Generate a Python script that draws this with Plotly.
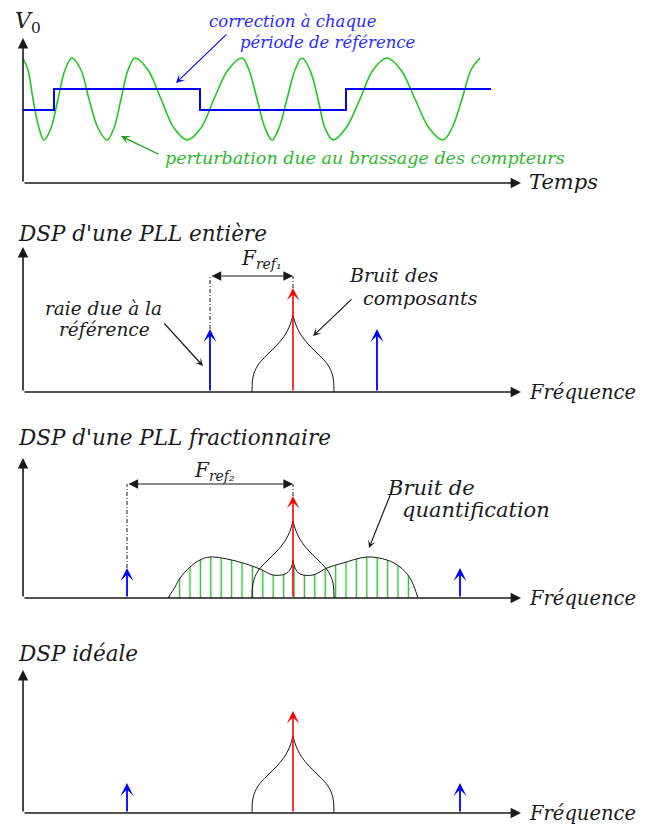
import plotly.graph_objects as go

W, H = 648, 828
OFF = 8                     # page body margin of the browser
FW, FH = W - OFF, H - OFF   # figure size
FONT = "DejaVu Serif, Liberation Serif, serif"

# ---------------- Panel 1 : time domain ----------------
wave_t = [0, 5, 10, 16, 21, 28, 35, 42, 49, 58, 66, 75, 84, 91, 98, 105, 112,
          125, 138, 151, 164, 178, 191, 205, 219, 226, 234, 242, 249, 256, 264, 272, 279,
          287, 295, 302, 310, 323, 337, 350, 364, 378, 392, 406, 420, 429, 439, 448, 457]
wave_v = [125, 113, 84, 55, 43, 55, 84, 113, 125, 113, 84, 55, 43, 55, 84, 113, 125,
          113, 84, 55, 43, 55, 84, 113, 125, 113, 84, 55, 43, 55, 84, 113, 125,
          113, 84, 55, 43, 55, 84, 113, 125, 113, 84, 55, 43, 55, 84, 113, 125]
corr_t = [0, 31, 177, 323, 468]
corr_v = [73, 94, 73, 94, 94]

# ---------------- Spectra (panels 2-4) ----------------
carrier_f = 270
carrier_amp = [104, 102, 102]
ref_f = [[187, 354], [104, 437], [104, 437]]
ref_amp = [63, 30, 30]
bump_df = [-41, -40, -35, -26, -16, -8, -3, 0]
bump_h = [0, 15, 27, 37, 47, 57, 67, 77]
quant_df_left = [-125, -118, -113, -103, -93, -83, -66, -50, -33, -20, -8, -2, 0]
quant_h_left = [0, 11, 20, 31, 38, 41, 39, 35, 29, 23, 24, 30, 38]
quant_df_right = [0, 2, 7, 20, 34, 50, 74, 94, 107, 117, 125]
quant_h_right = [38, 30, 24, 23, 30, 35, 41, 38, 31, 20, 0]
fref_level = [116, 114]
fref_labels = ["<i>F<sub>ref₁</sub></i>", "<i>F<sub>ref₂</sub></i>"]

titles = ["", "<i>DSP d'une PLL entière</i>", "<i>DSP d'une PLL fractionnaire</i>", "<i>DSP idéale</i>"]
title_y = [0, 159, 161, 160]
x_tip = 498
y_tip = [145, 145, 140, 143]

# panel layout in page pixels (top, bottom, baseline)
panels = [(8, 200, 183), (205, 410, 392), (415, 615, 598), (625, 828, 813)]

BLACK = "#1a1a1a"
BLUE = "#0000ff"
RED = "#ff0000"
GREEN = "#1ec81e"
GREEN_TXT = "#2eb82e"
BLUE_TXT = "#2a2aff"

fig = go.Figure()
ann = []
layout_axes = {}
for i, (top, bot, base) in enumerate(panels):
    name = "yaxis" if i == 0 else f"yaxis{i+1}"
    layout_axes[name] = dict(domain=[1 - (bot - OFF) / FH, 1 - (top - OFF) / FH],
                             range=[base - bot, base - top], visible=False, fixedrange=True)

def yref(i):
    return "y" if i == 0 else f"y{i+1}"

def arrow(i, x0, y0, x1, y1, color, width, head, size, **kw):
    ann.append(dict(x=x1, y=y1, ax=x0, ay=y0, xref="x", yref=yref(i), axref="x", ayref=yref(i),
                    text="", showarrow=True, arrowhead=head, arrowsize=size, arrowwidth=width,
                    arrowcolor=color, standoff=0, startstandoff=0, **kw))

def label(i, x, y, text, size, color=BLACK, xanchor="center"):
    ann.append(dict(x=x, y=y, xref="x", yref=yref(i), text=text, showarrow=False,
                    xanchor=xanchor, yanchor="middle",
                    font=dict(family=FONT, size=size, color=color)))

# axes for each panel
for i in range(4):
    arrow(i, 0, 0, x_tip, 0, BLACK, 1.6, 2, 1.3)
    arrow(i, 0, 0, 0, y_tip[i], BLACK, 1.6, 2, 1.3)
    if i > 0:
        label(i, -7, title_y[i], titles[i], 21.5, xanchor="left")
        label(i, 504, 0, "<i>Fréquence</i>", 19.5, xanchor="left")

# ---- panel 1 traces ----
fig.add_trace(go.Scatter(x=wave_t, y=wave_v, mode="lines",
                         line=dict(color=GREEN, width=1.6, shape="spline", smoothing=1.0),
                         xaxis="x", yaxis="y", hoverinfo="skip"))
fig.add_trace(go.Scatter(x=corr_t, y=corr_v, mode="lines", line=dict(color=BLUE, width=2, shape="hv"),
                         xaxis="x", yaxis="y", hoverinfo="skip"))
ann.append(dict(x=5, y=161, xref="x", yref="y", text="<i>V</i><sub>0</sub>", showarrow=False,
                font=dict(family=FONT, size=22, color=BLACK)))
label(0, 504, 1, "<i>Temps</i>", 21, xanchor="left")
label(0, 270, 162, "<i>correction à chaque</i>", 16.5, BLUE_TXT)
label(0, 305, 141, "<i>période de référence</i>", 16.5, BLUE_TXT)
arrow(0, 205, 150, 153, 100, BLUE, 1.1, 3, 1.3)
label(0, 342, 25, "<i>perturbation due au brassage des compteurs</i>", 17.5, GREEN_TXT)
arrow(0, 137, 28, 98, 47, "#14a014", 1.3, 3, 1.2)

# ---- spectra ----
pattern = dict(shape="|", size=10.4, solidity=0.14, fgcolor="#33bb33",
               bgcolor="rgba(0,0,0,0)", fillmode="replace")
for k in range(3):
    i = k + 1
    ya = yref(i)
    if k == 1:
        for dfs, hs in ((quant_df_left, quant_h_left), (quant_df_right, quant_h_right)):
            fig.add_trace(go.Scatter(x=[carrier_f + d for d in dfs], y=hs, mode="lines",
                                     line=dict(color=BLACK, width=1, shape="spline"), fill="tozeroy",
                                     fillcolor="rgba(0,0,0,0)", fillpattern=pattern,
                                     xaxis="x", yaxis=ya, hoverinfo="skip"))
    # component noise bump (two halves to keep the cusp)
    fig.add_trace(go.Scatter(x=[carrier_f + d for d in bump_df], y=bump_h, mode="lines",
                             line=dict(color=BLACK, width=1, shape="spline"), xaxis="x", yaxis=ya, hoverinfo="skip"))
    fig.add_trace(go.Scatter(x=[carrier_f - d for d in bump_df], y=bump_h, mode="lines",
                             line=dict(color=BLACK, width=1, shape="spline"), xaxis="x", yaxis=ya, hoverinfo="skip"))
    # spikes
    arrow(i, carrier_f, 0, carrier_f, carrier_amp[k], RED, 1.6, 3, 1.3)
    for f in ref_f[k]:
        arrow(i, f, 0, f, ref_amp[k], BLUE, 1.8, 3, 1.2)
    # Fref dimension
    if k < 2:
        lv = fref_level[k]
        fl = ref_f[k][0]
        for xx, y0 in ((fl, ref_amp[k]), (carrier_f, carrier_amp[k])):
            fig.add_trace(go.Scatter(x=[xx, xx], y=[y0, lv], mode="lines",
                                     line=dict(color=BLACK, width=1, dash="4px,2px,1px,2px"),
                                     xaxis="x", yaxis=ya, hoverinfo="skip"))
        arrow(i, fl, lv, carrier_f, lv, BLACK, 1.2, 2, 1.6, arrowside="end+start",
              startarrowhead=2, startarrowsize=1.6)
        label(i, [238, 191][k], [133, 127][k], fref_labels[k], 20)

# panel 2 annotations
label(1, 80, 84, "<i>raie due à la</i>", 18.5)
label(1, 81, 63, "<i>référence</i>", 18.5)
arrow(1, 140, 70, 180, 26, BLACK, 1.2, 3, 1.1)
label(1, 324, 117, "<i>Bruit des</i>", 19, xanchor="left")
label(1, 338, 94, "<i>composants</i>", 19, xanchor="left")
arrow(1, 330, 94, 290, 56, BLACK, 1.2, 3, 1.1)
# panel 3 annotations
label(2, 362, 110, "<i>Bruit de</i>", 21, xanchor="left")
label(2, 377, 88, "<i>quantification</i>", 21, xanchor="left")
arrow(2, 368, 105, 346, 50, BLACK, 1.2, 3, 1.1)

fig.update_layout(
    width=FW, height=FH, margin=dict(l=0, r=0, t=0, b=0),
    paper_bgcolor="white", plot_bgcolor="white", showlegend=False,
    xaxis=dict(domain=[0, 1], range=[OFF - 23, W - 23], visible=False, fixedrange=True),
    annotations=ann, **layout_axes)
fig.write_html("out.html")
